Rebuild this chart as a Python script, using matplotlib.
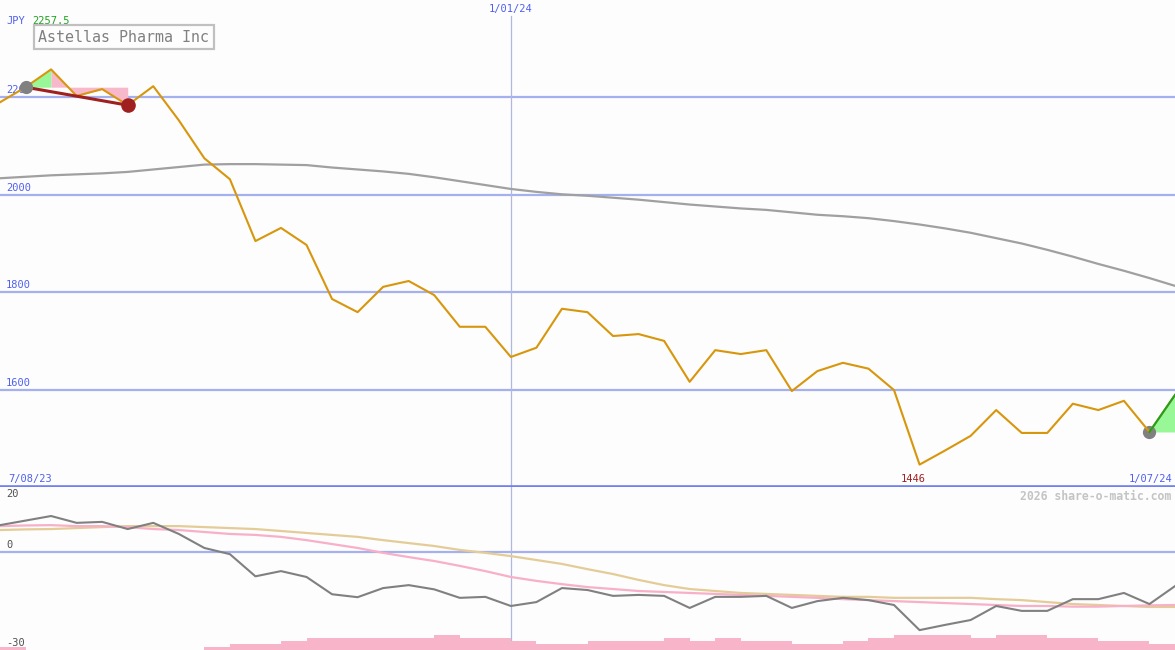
import numpy as np
import matplotlib.pyplot as plt
from matplotlib.transforms import offset_copy

plt.rcParams['font.family'] = ['DejaVu Sans Mono']

# weekly closes, 7/08/23 .. 1/07/24 (JPY)
price = [2190, 2221, 2257.5, 2203, 2217, 2184, 2223, 2153, 2075, 2032,
         1905, 1932, 1897, 1786, 1759, 1811, 1823, 1794, 1729, 1729,
         1667, 1686, 1766, 1759, 1710, 1714, 1700, 1616, 1681, 1673,
         1681, 1597, 1638, 1655, 1643, 1599, 1446, 1475, 1505, 1558,
         1511, 1511, 1571, 1558, 1577, 1513, 1589]
# long moving average (grey)
ma = [2034, 2037, 2040, 2042, 2044, 2047, 2052, 2057, 2062, 2063,
      2063, 2062, 2061, 2056, 2052, 2048, 2043, 2036, 2028, 2020,
      2012, 2006, 2001, 1998, 1994, 1990, 1985, 1980, 1976, 1972,
      1969, 1964, 1959, 1956, 1952, 1946, 1939, 1931, 1922, 1911,
      1900, 1887, 1873, 1858, 1844, 1829, 1813]
# lower panel: oscillator and its two averages
osc = [8.3, 9.7, 11.1, 9.0, 9.3, 7.1, 9.0, 5.6, 1.3, -0.6,
       -7.4, -5.8, -7.6, -12.9, -13.8, -11.0, -10.1, -11.4, -14.0, -13.7,
       -16.5, -15.3, -11.0, -11.6, -13.4, -13.1, -13.4, -17.1, -13.7, -13.7,
       -13.4, -17.1, -15.0, -14.0, -14.7, -16.2, -23.9, -22.3, -20.8, -16.5,
       -18.0, -18.0, -14.4, -14.4, -12.5, -15.9, -10.4]
osc_avg1 = [8.0, 8.2, 8.3, 8.0, 8.0, 7.7, 7.1, 6.8, 6.2, 5.6,
            5.3, 4.7, 3.7, 2.5, 1.3, -0.2, -1.5, -2.7, -4.2, -5.8,
            -7.6, -8.8, -9.8, -10.7, -11.3, -11.9, -12.2, -12.5, -12.8, -13.1,
            -13.4, -13.7, -14.0, -14.4, -14.7, -15.0, -15.3, -15.6, -15.9, -16.2,
            -16.5, -16.5, -16.7, -16.7, -16.5, -16.3, -16.2]
osc_avg2 = [6.8, 7.0, 7.1, 7.4, 7.7, 8.0, 8.0, 8.0, 7.7, 7.4,
            7.1, 6.5, 5.9, 5.3, 4.7, 3.7, 2.8, 1.9, 0.7, -0.2,
            -1.2, -2.4, -3.6, -5.2, -6.7, -8.5, -10.1, -11.3, -11.9, -12.5,
            -12.8, -13.1, -13.4, -13.7, -13.7, -14.0, -14.0, -14.0, -14.0, -14.4,
            -14.7, -15.3, -15.9, -16.2, -16.5, -16.8, -16.8]
# volume steps (relative)
vol = [1, 0, 0, 0, 0, 0, 0, 0, 1, 2, 2, 3, 4, 4, 4, 4, 4, 5, 4, 4,
       3, 2, 2, 3, 3, 3, 4, 3, 4, 3, 3, 2, 2, 3, 4, 5, 5, 5, 4, 5,
       5, 4, 4, 3, 3, 2]

name = 'Astellas Pharma Inc'
date_labels = ['7/08/23', '1/01/24', '1/07/24']
jan_idx = 20
price_ticks = [2200, 2000, 1800, 1600]

bg = '#fcfdfc'
grid_c = '#a4b0f0'
blue_txt = '#5060f0'

x = np.arange(len(price))
n = len(price) - 1

fig = plt.figure(figsize=(11.75, 6.5), dpi=100, facecolor=bg)
ax = fig.add_axes([0, 163 / 650, 1, 487 / 650])
ax2 = fig.add_axes([0, 0, 1, 163 / 650])
for a in (ax, ax2):
    a.set_facecolor(bg)
    a.set_xlim(0, n)
    a.axis('off')
ax.set_ylim(1400, 2400)
ax2.set_ylim(-30, 20)

# ---- main panel
for t in price_ticks:
    ax.axhline(t, color=grid_c, lw=1.6, zorder=1)
    ax.text(0.005, t, str(t), transform=offset_copy(ax.get_yaxis_transform(), fig, y=2, units='dots'),
            color=blue_txt, fontsize=7.5, va='bottom', ha='left', zorder=2)
ax.axhline(1400, color='#7080f0', lw=2.6, zorder=5)
ax.axvline(jan_idx, ymax=1 - 16 / 487, color='#b0b8e0', lw=0.9, zorder=1)

ax.plot(x, ma, color='#a0a0a0', lw=1.6, zorder=3)

lvl = price[1]
ax.fill_between(x[1:3], price[1:3], lvl, color='#98f898', lw=0, zorder=2)
ax.fill_between(x[2:6], price[2:6], lvl, color='#f8b8cc', lw=0, zorder=2)
ax.fill_between(x[n - 1:], price[n - 1:], price[n - 1], color='#98f898', lw=0, zorder=2)

ax.plot(x, price, color='#d8960c', lw=1.5, zorder=4)
ax.plot(x[n - 1:], price[n - 1:], color='#22a022', lw=1.5, zorder=4)
ax.plot([x[1], x[5]], [price[1], price[5]], color='#a02020', lw=2.2, zorder=5)
ax.plot(x[5], price[5], 'o', color='#a02020', ms=9.5, zorder=6)
ax.plot(x[1], price[1], 'o', color='#808080', ms=8.5, zorder=6)
ax.plot(x[n - 1], price[n - 1], 'o', color='#808080', ms=8.5, zorder=3)

imin = int(np.argmin(price))
ax.text(imin, 1400, f'{min(price):g}', transform=offset_copy(ax.transData, fig, x=-6, y=3, units='dots'),
        color='#a02020', fontsize=7.5, ha='center', va='bottom')
ax.text(0, 1400, date_labels[0], transform=offset_copy(ax.transData, fig, x=8, y=3, units='dots'),
        color=blue_txt, fontsize=7.5, ha='left', va='bottom')
ax.text(n, 1400, date_labels[2], transform=offset_copy(ax.transData, fig, x=-3, y=3, units='dots'),
        color=blue_txt, fontsize=7.5, ha='right', va='bottom')
ax.text(jan_idx, 1, date_labels[1], transform=offset_copy(ax.get_xaxis_transform(), fig, y=-4, units='dots'),
        color=blue_txt, fontsize=7.5, ha='center', va='top')

fig.text(6 / 1175, 1 - 21 / 650, 'JPY', color=blue_txt, fontsize=7.5, va='center', ha='left')
fig.text(32 / 1175, 1 - 21 / 650, f'{max(price):g}', color='#20a020', fontsize=7.5, va='center', ha='left')
fig.text(38 / 1175, 1 - 37 / 650, name, color='#808080', fontsize=10.8, va='center', ha='left',
         bbox=dict(boxstyle='square,pad=0.3', fc=bg, ec='#c0c0c0', lw=1.6))

# ---- lower panel
ax2.axhline(0, color=grid_c, lw=1.6, zorder=1)
ax2.axvline(jan_idx, color='#b0b8e0', lw=0.9, zorder=1)
ax2.plot(x, osc_avg2, color='#e4cc98', lw=1.6, zorder=3)
ax2.plot(x, osc_avg1, color='#f8b0c8', lw=1.6, zorder=3)
ax2.plot(x, osc, color='#808080', lw=1.5, zorder=4)

axv = ax2.twinx()
axv.set_ylim(0, 163 / 3)
axv.set_xlim(0, n)
axv.axis('off')
axv.stairs(vol, np.arange(len(vol) + 1), baseline=0, fill=True, color='#f8b4c8', lw=0, zorder=2)

for v, dy in ((20, -2), (0, 2), (-30, 2)):
    va = 'top' if v == 20 else 'bottom'
    ax2.text(6 / 1175, v, str(v), transform=offset_copy(ax2.get_yaxis_transform(), fig, y=dy, units='dots'),
             color='#505050', fontsize=7.5, va=va, ha='left')
ax2.text(0.997, 20, '2026 share-o-matic.com',
         transform=offset_copy(ax2.get_yaxis_transform(), fig, y=-3, units='dots'),
         color='#c4c4c4', fontsize=8.3, fontweight='bold', va='top', ha='right')

fig.savefig('out.png', dpi=100, facecolor=bg)
